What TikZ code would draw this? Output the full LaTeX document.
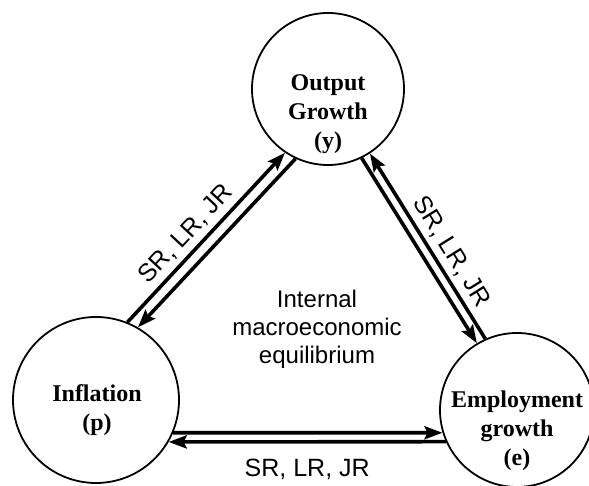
\documentclass[tikz,border=0pt]{standalone}
\usepackage{fontspec}
\setmainfont{Liberation Serif}
\setsansfont{Liberation Sans}
\usetikzlibrary{arrows.meta, positioning}
\tikzset{
  every picture/.style={line width=1.2pt},
  sector/.style={draw, circle, line width=1.8pt, minimum size=#1, inner sep=0pt},
  sectorname/.style={font=\fontsize{24}{29}\selectfont\bfseries, align=center},
  flow/.style={-{Stealth[length=18pt, width=13pt, inset=3pt]}, line width=3.6pt},
  horizon/.style={font=\sffamily\fontsize{25}{30}\selectfont, inner sep=3pt},
  note/.style={font=\sffamily\fontsize{24}{28}\selectfont, align=center},
}

\begin{document}
\begin{tikzpicture}[x=1pt, y=1pt]
  \useasboundingbox (0,0) rectangle (589,486);
  % ---------- sectors
  \node[sector=152pt] (y) at (328,397) {};
  \node[sector=166pt] (p) at (96,86) {};
  \node[sector=154pt] (e) at (517,76) {};
  \node[sectorname] (ytext) at (328,372) {Output\\Growth\\(y)};
  \node[sectorname] (ptext) at (97,76) {Inflation\\(p)};
  \node[sectorname] (etext) at (517,55) {Employment\\growth\\(e)};
  \node[note] (eq) at (317,157) {Internal\\macroeconomic\\equilibrium};
  % ---------- flows
  \draw[flow] (p.68) -- (y.236) node[horizon, sloped, above=2pt, pos=0.45] (pylab) {SR, LR, JR};
  \draw[flow] (y.245) -- (p.60);
  \draw[flow] (e.114) -- (y.303) node[horizon, sloped, above=2pt, pos=0.42] (yelab) {SR, LR, JR};
  \draw[flow] (y.296) -- (e.121);
  \draw[flow] (p.337) -- (e.197);
  \draw[flow] (e.204) -- (p.330) node[horizon, midway, below=12pt] (eplab) {SR, LR, JR};
\end{tikzpicture}
\end{document}
